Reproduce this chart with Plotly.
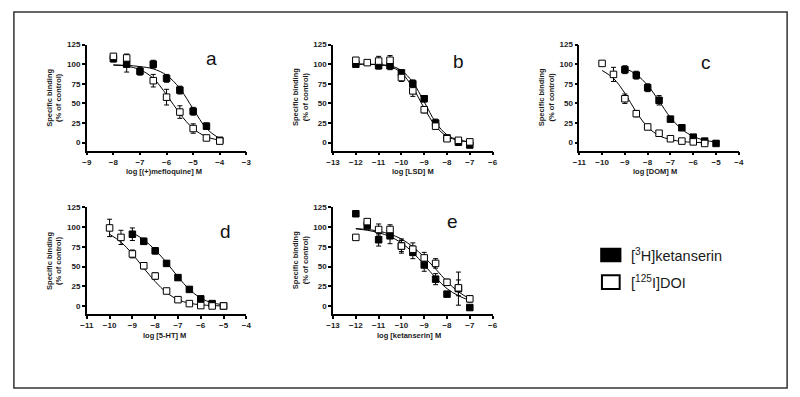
import plotly.graph_objects as go

# ---------------- data ----------------
# Panel a : (+)mefloquine
a_x_fill = [-8, -7.5, -7, -6.5, -6, -5.5, -5, -4.5, -4]
a_y_fill = [107, 100, 91, 100, 82, 67, 40, 21, 3]
a_e_fill = [4, 10, 5, 5, 5, 5, 5, 4, 2]
a_x_open = [-8, -7.5, -6.5, -6, -5.5, -5, -4.5, -4]
a_y_open = [110, 108, 79, 58, 39, 18, 6, 2]
a_e_open = [3, 5, 8, 10, 8, 6, 2, 2]
a_cx_fill = [-8, -7.5, -7, -6.5, -6, -5.5, -5, -4.5, -4]
a_cy_fill = [99, 98.5, 97, 94, 86, 69, 43, 18, 5]
a_cx_open = [-8, -7.5, -7, -6.5, -6, -5.5, -5, -4.5, -4]
a_cy_open = [99, 97.5, 93, 82, 61, 37, 18, 7.5, 3]

# Panel b : LSD
b_x_fill = [-12, -11, -10.5, -10, -9.5, -9, -8.5, -8, -7.5, -7]
b_y_fill = [100, 98, 98, 89, 75, 56, 25, 6, 0.5, -3]
b_e_fill = [0, 4, 5, 2, 5, 4, 5, 2, 1, 1]
b_x_open = [-12, -11.5, -11, -10.5, -10, -9.5, -9, -8.5, -8, -7.5, -7]
b_y_open = [105, 102, 104, 105, 83, 66, 42, 21, 5, 3, 1]
b_e_open = [0, 0, 6, 6, 5, 7, 4, 3, 1, 1, 1]
b_cx = [-12, -11.5, -11, -10.5, -10, -9.5, -9, -8.5, -8, -7.5, -7]
b_cy_fill = [100, 100, 99.5, 98, 92, 77, 52, 26, 10, 3.5, 1]
b_cy_open = [100, 100, 99, 97, 89, 70, 44, 21, 8, 3, 1]

# Panel c : DOM
c_x_fill = [-9, -8.5, -8, -7.5, -7, -6.5, -6, -5.5, -5]
c_y_fill = [93, 86, 70, 54, 30, 19, 7, 2, -1]
c_e_fill = [5, 5, 5, 6, 3, 3, 1, 1, 1]
c_x_open = [-10, -9.5, -9, -8.5, -8, -7.5, -7, -6.5, -6, -5.5]
c_y_open = [101, 87, 56, 37, 20, 12, 5, 2, 1, -1]
c_e_open = [0, 9, 6, 4, 3, 1, 1, 1, 1, 1]
c_cx_fill = [-9, -8.5, -8, -7.5, -7, -6.5, -6, -5.5, -5]
c_cy_fill = [95, 87, 73, 53, 32, 17, 8, 3, 1]
c_cx_open = [-10, -9.5, -9, -8.5, -8, -7.5, -7, -6.5, -6, -5.5]
c_cy_open = [92, 82, 63, 39, 20, 9, 4, 1.5, 0.5, 0]

# Panel d : 5-HT
d_x_fill = [-9, -8.5, -8, -7.5, -7, -6.5, -6, -5.5, -5]
d_y_fill = [91, 82, 70, 54, 36, 21, 9, 3, 0]
d_e_fill = [8, 4, 4, 3, 1, 1, 1, 1, 1]
d_x_open = [-10, -9.5, -9, -8.5, -8, -7.5, -7, -6.5, -6, -5.5, -5]
d_y_open = [99, 87, 66, 51, 38, 19, 8, 3, 0.5, 0, 0]
d_e_open = [11, 9, 5, 4, 4, 1, 1, 1, 1, 1, 1]
d_cx_fill = [-9, -8.5, -8, -7.5, -7, -6.5, -6, -5.5, -5]
d_cy_fill = [93, 84, 71, 55, 37, 21, 10, 4, 1.5]
d_cx_open = [-10, -9.5, -9, -8.5, -8, -7.5, -7, -6.5, -6, -5.5, -5]
d_cy_open = [91, 81, 66, 48, 31, 17, 8, 3.5, 1.5, 0.5, 0]

# Panel e : ketanserin
e_x_fill = [-12, -11.5, -11, -10.5, -10, -9.5, -9, -8.5, -8, -7.5, -7]
e_y_fill = [117, 102, 84, 89, 76, 68, 52, 34, 15, 22, -2]
e_e_fill = [0, 2, 8, 10, 7, 8, 8, 7, 3, 21, 0]
e_x_open = [-12, -11.5, -11, -10.5, -10, -9.5, -9, -8.5, -8, -7.5, -7]
e_y_open = [87, 107, 97, 97, 76, 72, 61, 54, 30, 23, 9]
e_e_open = [0, 1, 7, 6, 9, 8, 7, 6, 4, 10, 4]
e_cx = [-12, -11.5, -11, -10.5, -10, -9.5, -9, -8.5, -8, -7.5, -7]
e_cy_fill = [98, 96, 93, 88, 80, 68, 52, 36, 22, 13, 7]
e_cy_open = [98, 97, 95, 91, 85, 75, 62, 47, 31, 18, 9]

y_ticks = [0, 25, 50, 75, 100, 125]
x_titles = ["log [(+)mefloquine] M", "log [LSD] M", "log [DOM] M",
            "log [5-HT] M", "log [ketanserin] M"]
panel_letters = ["a", "b", "c", "d", "e"]
x_ranges = [[-9, -3], [-13, -6], [-11, -4], [-11, -4], [-13, -6]]
legend_labels = ["[<sup>3</sup>H]ketanserin", "[<sup>125</sup>I]DOI"]

panels = [
    (a_x_fill, a_y_fill, a_e_fill, a_x_open, a_y_open, a_e_open,
     a_cx_fill, a_cy_fill, a_cx_open, a_cy_open),
    (b_x_fill, b_y_fill, b_e_fill, b_x_open, b_y_open, b_e_open,
     b_cx, b_cy_fill, b_cx, b_cy_open),
    (c_x_fill, c_y_fill, c_e_fill, c_x_open, c_y_open, c_e_open,
     c_cx_fill, c_cy_fill, c_cx_open, c_cy_open),
    (d_x_fill, d_y_fill, d_e_fill, d_x_open, d_y_open, d_e_open,
     d_cx_fill, d_cy_fill, d_cx_open, d_cy_open),
    (e_x_fill, e_y_fill, e_e_fill, e_x_open, e_y_open, e_e_open,
     e_cx, e_cy_fill, e_cx, e_cy_open),
]

# ---------------- layout geometry (pixels of the 800x397 page) ----------------
W, H = 800, 397
px_x = [(81, 243), (331, 493), (581, 743), (81, 243), (331, 493)]
px_y = [(41, 148), (41, 148), (41, 148), (205.5, 313), (205.5, 313)]
xtitle_px = [(159, 169), (412, 169), (658, 169), (160, 335), (408, 335)]
letter_px = [(208, 55), (458, 58), (710, 59), (222, 230), (452, 220)]

FONT = "Arial, Liberation Sans, sans-serif"
TXT = "#1a1a1a"
small_font = dict(size=7.5, family=FONT, color=TXT, weight="bold")
tick_font = dict(size=8, family=FONT, color=TXT, weight="bold")

fig = go.Figure()
layout = dict(
    width=W, height=H, margin=dict(l=0, r=0, t=0, b=0),
    paper_bgcolor="white", plot_bgcolor="white", showlegend=False,
    font=dict(family=FONT, color=TXT),
)
annotations = []
shapes = []

for i, p in enumerate(panels):
    xf, yf, ef, xo, yo, eo, cxf, cyf, cxo, cyo = p
    n = "" if i == 0 else str(i + 1)
    xa, ya = "x" + n, "y" + n
    line = dict(color="black", width=1)
    fig.add_trace(go.Scatter(x=cxf, y=cyf, mode="lines", line=dict(shape="spline", smoothing=1.0, **line),
                             xaxis=xa, yaxis=ya, hoverinfo="skip"))
    fig.add_trace(go.Scatter(x=cxo, y=cyo, mode="lines", line=dict(shape="spline", smoothing=1.0, **line),
                             xaxis=xa, yaxis=ya, hoverinfo="skip"))
    fig.add_trace(go.Scatter(x=xf, y=yf, mode="markers",
                             marker=dict(symbol="square", size=6.5, color="black",
                                         line=dict(color="black", width=1)),
                             error_y=dict(type="data", array=ef, color="black", thickness=1, width=2.5),
                             xaxis=xa, yaxis=ya, cliponaxis=False))
    fig.add_trace(go.Scatter(x=xo, y=yo, mode="markers",
                             marker=dict(symbol="square", size=6.5, color="white",
                                         line=dict(color="black", width=1)),
                             error_y=dict(type="data", array=eo, color="black", thickness=1, width=2.5),
                             xaxis=xa, yaxis=ya, cliponaxis=False))

    x0, x1 = px_x[i]
    y0, y1 = px_y[i]
    layout["xaxis" + n] = dict(
        domain=[x0 / W, x1 / W], range=x_ranges[i], anchor=ya,
        showline=True, linecolor="black", linewidth=1.5,
        ticks="outside", ticklen=3, tickwidth=1.5, tickcolor="black",
        dtick=1, showgrid=False, zeroline=False, tickfont=tick_font,
    )
    layout["yaxis" + n] = dict(
        domain=[1 - y1 / H, 1 - y0 / H], range=[-10, 125], anchor=xa,
        showline=True, linecolor="black", linewidth=1.5,
        ticks="outside", ticklen=3, tickwidth=1.5, tickcolor="black",
        tickvals=y_ticks, showgrid=False, zeroline=False, tickfont=tick_font,
    )
    # y-axis title
    annotations.append(dict(
        x=(x0 - 33) / W, y=1 - ((y0 + y1) / 2) / H, xref="paper", yref="paper",
        text="Specific binding<br>(% of control)", textangle=-90, showarrow=False,
        font=small_font, xanchor="center", yanchor="middle",
    ))
    # x-axis title
    tx, ty = xtitle_px[i]
    annotations.append(dict(
        x=tx / W, y=1 - ty / H, xref="paper", yref="paper", text=x_titles[i],
        showarrow=False, font=small_font, xanchor="center", yanchor="middle",
    ))
    # panel letter
    lx, ly = letter_px[i]
    annotations.append(dict(
        x=lx / W, y=1 - ly / H, xref="paper", yref="paper", text=panel_letters[i],
        showarrow=False, font=dict(size=19, family=FONT, color="#111111"),
        xanchor="center", yanchor="middle",
    ))

# legend (drawn as shapes + text)
shapes.append(dict(type="rect", xref="paper", yref="paper",
                   x0=603 / W, x1=623 / W, y0=1 - 260 / H, y1=1 - 247 / H,
                   fillcolor="black", line=dict(color="black", width=1.5)))
shapes.append(dict(type="rect", xref="paper", yref="paper",
                   x0=604 / W, x1=622 / W, y0=1 - 288 / H, y1=1 - 274 / H,
                   fillcolor="white", line=dict(color="black", width=2)))
for lbl, yy in zip(legend_labels, [254, 281]):
    annotations.append(dict(
        x=631 / W, y=1 - yy / H, xref="paper", yref="paper", text=lbl,
        showarrow=False, font=dict(size=14.5, family=FONT, color=TXT),
        xanchor="left", yanchor="middle",
    ))

# outer frame
shapes.append(dict(type="rect", xref="paper", yref="paper",
                   x0=7 / W, x1=792 / W, y0=1 - 388 / H, y1=1 - 8 / H,
                   line=dict(color="#333333", width=1.5), fillcolor="rgba(0,0,0,0)"))

layout["annotations"] = annotations
layout["shapes"] = shapes
fig.update_layout(**layout)
fig.write_html(
    "out.html",
    config={"displayModeBar": False},
    post_script="document.body.style.margin='0';document.body.style.overflow='hidden';",
)
